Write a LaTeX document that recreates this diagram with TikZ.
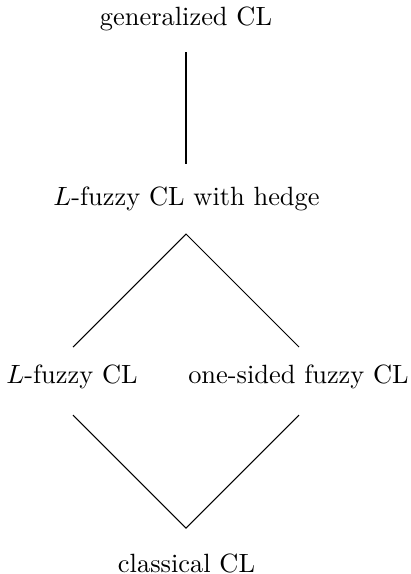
\documentclass[tikz,border=0pt]{standalone}
\usetikzlibrary{calc}
\begin{document}
\begin{tikzpicture}[x=0.3788pt,y=-0.3788pt,
  lbl/.style={anchor=base,inner sep=0pt,font=\normalsize},
  link/.style={draw=black,line width=0.4pt}]
\useasboundingbox (0,0) rectangle (410,574);
\node[lbl] (gen) at (186,25) {generalized CL};
\node[lbl] (hedge) at (186.5,205) {$L$-fuzzy CL with hedge};
\node[lbl] (lf) at (72,383) {$L$-fuzzy CL};
\node[lbl] (os) at (298.5,383) {one-sided fuzzy CL};
\node[lbl] (cl) at (186.5,572) {classical CL};
\coordinate (g1) at (186,52);
\coordinate (g2) at (186,164);
\coordinate (apex) at (186,234);
\coordinate (l1) at (73,347);
\coordinate (r1) at (299,347);
\coordinate (l2) at (73,415);
\coordinate (r2) at (299,415);
\coordinate (bot) at (186,528);
\draw[link] (g1) -- (g2);
\draw[link] (l1) -- (apex) -- (r1);
\draw[link] (l2) -- (bot) -- (r2);
\end{tikzpicture}
\end{document}
